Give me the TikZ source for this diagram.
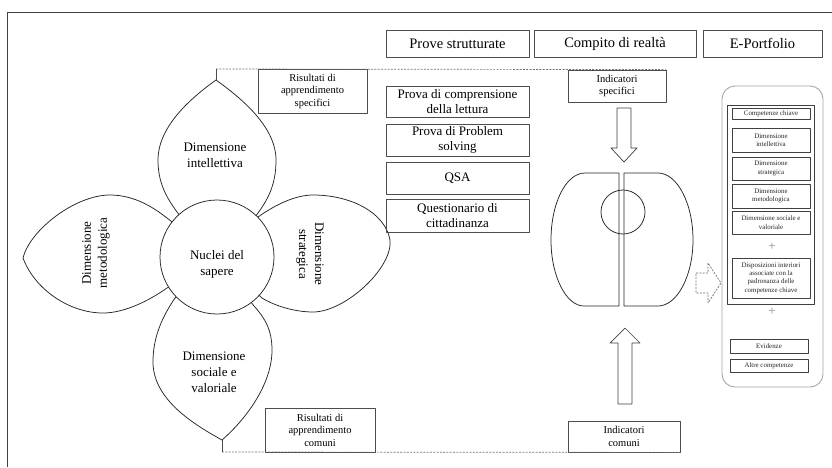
\documentclass[tikz,border=0pt]{standalone}
\usepackage{fontspec}
\setmainfont{Liberation Serif}
\begin{document}
\begin{tikzpicture}[x=1pt,y=-1pt,line join=round]
\tikzset{
 fr/.style={draw=black!75, line width=0.8pt},
 bx/.style={draw=black!70, line width=0.8pt, inner sep=0pt, align=center, anchor=center},
 hdr/.style={bx, minimum height=27, font=\fontsize{14.5}{17}\selectfont},
 itm/.style={bx, minimum width=143, font=\fontsize{13}{14.5}\selectfont},
 res/.style={bx, font=\fontsize{10.5}{12.5}\selectfont},
 pf/.style={bx, draw=black!75, line width=0.6pt, minimum width=78, font=\fontsize{6.9}{8.3}\selectfont, text=black!85},
 petal/.style={draw=black!85, line width=0.75pt, fill=white},
 flw/.style={font=\fontsize{13}{16}\selectfont, align=center, inner sep=0pt},
 dsh/.style={draw=black!55, dash pattern=on 2pt off 1.3pt, line width=0.7pt},
 hollow/.style={draw=black!75, line width=0.7pt, fill=white},
 dline/.style={draw=black!85, line width=0.75pt},
}
\useasboundingbox (0,0) rectangle (832,467);
\fill[white] (0,0) rectangle (832,467);
% frame
\draw[fr] (7,467) -- (7,12) -- (832,12);

% headers
\node[hdr, minimum width=143] (h1) at (457.5,43.5) {Prove strutturate};
\node[hdr, minimum width=162] (h2) at (615,43.5) {Compito di realtà};
\node[hdr, minimum width=119] (h3) at (762.5,43.5) {E-Portfolio};

% petals
\draw[petal] (172,222) .. controls (155,208) and (135,195) .. (110,195) .. controls (75,195) and (30,230) .. (23,258) .. controls (35,290) and (70,313) .. (103,313) .. controls (125,313) and (150,300) .. (167,288) -- (217,257) -- cycle;
\draw[petal] (258,217) .. controls (275,205) and (295,195) .. (313,195) .. controls (350,195) and (385,212) .. (390,240) .. controls (393,268) and (345,312) .. (313,312) .. controls (295,312) and (275,306) .. (262,298) -- (217,257) -- cycle;
\draw[petal] (216,80) .. controls (188,100) and (158,128) .. (158,160) .. controls (158,185) and (168,200) .. (180,216) -- (217,257) -- (255,217) .. controls (268,200) and (276,185) .. (276,160) .. controls (276,128) and (244,100) .. (216,80) -- cycle;
\draw[petal] (175,298) .. controls (160,320) and (153,340) .. (153,362) .. controls (153,400) and (195,425) .. (222,440) .. controls (245,420) and (272,385) .. (272,350) .. controls (272,330) and (265,318) .. (254,306) -- (217,257) -- cycle;
\node[circle, draw=black!85, line width=0.75pt, fill=white, minimum size=114, inner sep=0pt] (nuc) at (217,257) {};
\node[flw] (nuct) at (217,264) {Nuclei del\\sapere};
\node[flw] (dint) at (215,155) {Dimensione\\intellettiva};
\node[flw, rotate=90] (dmet) at (96,253) {Dimensione\\metodologica};
\node[flw, rotate=-90] (dstr) at (310,254) {Dimensione\\strategica};
\node[flw] (dsoc) at (214,372) {Dimensione\\sociale e\\valoriale};

\coordinate (tapex) at (216,80);
\coordinate (bapex) at (222,440);
\coordinate (tl) at (216,69);
\coordinate (bl) at (222,452);

% result boxes
\node[res, minimum width=109, minimum height=44] (rspec) at (312.5,91) {Risultati di\\apprendimento\\specifici};
\node[res, minimum width=110, minimum height=44] (rcom) at (320,430) {Risultati di\\apprendimento\\comuni};
\node[res, minimum width=98, minimum height=32] (ispec) at (617,86) {Indicatori\\specifici};
\node[res, minimum width=112, minimum height=31] (icom) at (624,436.5) {Indicatori\\comuni};

\draw[dsh] (tl) -- (ispec.north east);
\draw[dsh] (bl) -- (icom.south east);
\draw[draw=black!70, line width=0.75pt] (tapex) -- (tl);
\draw[draw=black!70, line width=0.75pt] (bapex) -- (bl);

% prove strutturate items
\node[itm, minimum height=31] (p1) at (457.5,101.5) {Prova di comprensione\\della lettura};
\node[itm, minimum height=32] (p2) at (457.5,140) {Prova di Problem\\solving};
\node[itm, minimum height=32] (p3) at (457.5,178) {QSA};
\node[itm, minimum height=33] (p4) at (457.5,215.5) {Questionario di\\cittadinanza};

% compito di realta shapes
\draw[dline] (619,173) -- (585,173) .. controls (566,173) and (551,203) .. (551,240) .. controls (551,276) and (566,306) .. (584,306) -- (619,306) -- cycle;
\draw[dline] (624,173) -- (658,173) .. controls (677,173) and (693,203) .. (693,240) .. controls (693,276) and (677,306) .. (658,306) -- (624,306) -- cycle;
\draw[dline] (623,212) circle (22);

% arrows
\draw[hollow] (617,108) -- (631,108) -- (631,148) -- (637,148) -- (624,162) -- (611,148) -- (617,148) -- cycle;
\draw[hollow] (618,404) -- (632,404) -- (632,343) -- (640,343) -- (625,328) -- (610,343) -- (618,343) -- cycle;
\draw[dsh, line width=0.7pt] (696,273) -- (708,273) -- (708,263) -- (721,283) -- (708,303) -- (708,293) -- (696,293) -- cycle;

% e-portfolio
\draw[draw=black!35, line width=0.9pt, rounded corners=13pt] (722,86) rectangle (823,387);
\draw[draw=black!75, line width=0.8pt] (727,105) rectangle (814,304);
\node[pf, minimum height=11] (e1) at (771,113.5) {Competenze chiave};
\node[pf, minimum height=24] (e2) at (771,140) {Dimensione\\intellettiva};
\node[pf, minimum height=23] (e3) at (771,168.5) {Dimensione\\strategica};
\node[pf, minimum height=24] (e4) at (771,196) {Dimensione\\metodologica};
\node[pf, minimum height=23] (e5) at (771,222.5) {Dimensione sociale e\\valoriale};
\node[font=\fontsize{13}{13}\selectfont, text=black!45, inner sep=0pt] (plus1) at (772,247) {+};
\node[pf, minimum height=40] (e6) at (771,278) {Disposizioni interiori\\associate con la\\padronanza delle\\competenze chiave};
\node[font=\fontsize{13}{13}\selectfont, text=black!45, inner sep=0pt] (plus2) at (772,312) {+};
\node[pf, minimum height=14] (e7) at (769,346) {Evidenze};
\node[pf, minimum height=13] (e8) at (769,365.5) {Altre competenze};
\end{tikzpicture}
\end{document}
